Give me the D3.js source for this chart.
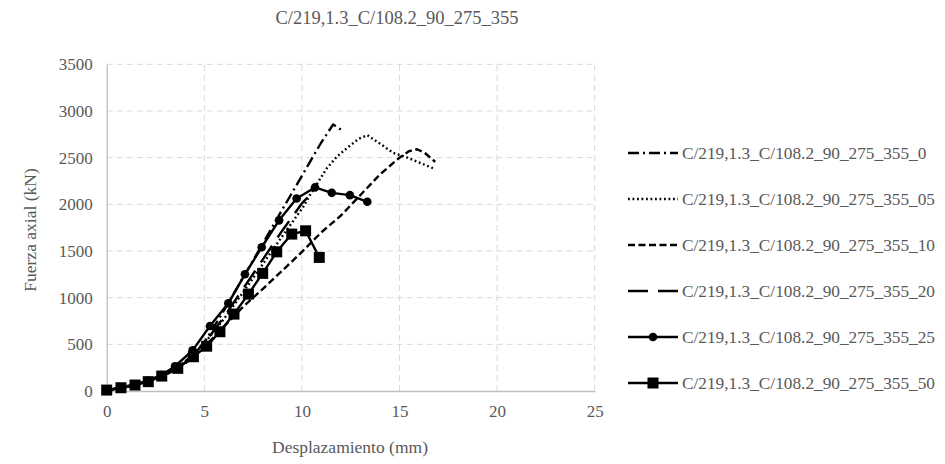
<!DOCTYPE html>
<html>
<head>
<meta charset="utf-8">
<script src="https://cdn.jsdelivr.net/npm/d3@7"></script>
<style>
  html, body { margin: 0; padding: 0; background: #fff; }
  svg text { font-family: "Liberation Serif", "Times New Roman", serif; fill: #595959; }
</style>
</head>
<body>
<svg id="chart" width="945" height="464"></svg>
<script>
// Axial force vs. displacement, six test specimens
const title = "C/219,1.3_C/108.2_90_275_355";
const seriesNames = [
  "C/219,1.3_C/108.2_90_275_355_0",
  "C/219,1.3_C/108.2_90_275_355_05",
  "C/219,1.3_C/108.2_90_275_355_10",
  "C/219,1.3_C/108.2_90_275_355_20",
  "C/219,1.3_C/108.2_90_275_355_25",
  "C/219,1.3_C/108.2_90_275_355_50"
];
const xTicks = [0, 5, 10, 15, 20, 25];
const yTicks = [0, 500, 1000, 1500, 2000, 2500, 3000, 3500];

// [displacement (mm), axial force (kN)]
const s0 = [[0,10],[1,40],[2,100],[3,180],[4,310],[5,520],[6,860],[7,1220],[8,1580],[9,1945],[10,2305],[11,2665],[11.6,2855],[12.0,2800]];
const s05 = [[0,10],[1,40],[2,100],[3,175],[4,310],[5,510],[6,770],[7,1060],[8,1360],[9,1660],[10.07,1973],[10.41,2098],[10.84,2241],[11.27,2384],[11.78,2508],[12.38,2615],[12.9,2700],[13.35,2741],[14.0,2650],[14.68,2551],[15.37,2502],[16.1,2440],[16.75,2384]];
const s10 = [[0,10],[1,40],[2,100],[3,170],[4,290],[5,470],[6,690],[7,905],[8,1095],[9,1290],[10,1490],[11,1700],[12,1880],[13,2100],[14,2320],[15,2500],[15.5,2570],[15.9,2590],[16.3,2550],[16.83,2455]];
const s20 = [[0,10],[1,40],[2,100],[3,175],[4,300],[5,510],[6,790],[7,1100],[8,1410],[9,1720],[10,2010],[10.5,2120]];
const s25 = [[0,10],[0.7,35],[1.4,70],[2.1,110],[2.8,170],[3.5,265],[4.4,435],[5.29,696],[6.23,939],[7.08,1250],[7.94,1540],[8.83,1828],[9.73,2063],[10.67,2181],[11.53,2123],[12.46,2098],[13.35,2027]];
const s50 = [[0,10],[0.73,35],[1.45,64],[2.13,100],[2.82,160],[3.64,243],[4.44,367],[5.12,480],[5.8,635],[6.52,824],[7.26,1038],[7.99,1260],[8.71,1491],[9.48,1681],[10.19,1716],[10.89,1431]];

const seriesData = [s0, s05, s10, s20, s25, s50];
const dashes = ["11,4,2,4", "1.8,2.7", "7,3.5", "20,10", null, null];
const markers = [null, null, null, null, "circle", "square"];

const svg = d3.select("#chart");
const font = '"Liberation Serif", "Times New Roman", serif';

const x = d3.scaleLinear().domain([0, 25]).range([106.7, 594.7]);
const y = d3.scaleLinear().domain([0, 3500]).range([391, 64.3]);

// gridlines
const grid = svg.append("g");
grid.selectAll("line.h").data(yTicks.filter(d => d > 0)).join("line")
  .attr("x1", x(0)).attr("x2", x(25))
  .attr("y1", d => y(d)).attr("y2", d => y(d))
  .attr("stroke", "#d9d9d9").attr("stroke-width", 1).attr("stroke-dasharray", "6,4");
grid.selectAll("line.v").data(xTicks.filter(d => d > 0)).join("line")
  .attr("x1", d => x(d)).attr("x2", d => x(d))
  .attr("y1", y(0)).attr("y2", y(3500))
  .attr("stroke", "#d9d9d9").attr("stroke-width", 1).attr("stroke-dasharray", "6,4");

// axes
const xAxis = svg.append("g").attr("transform", `translate(0,${y(0)})`)
  .call(d3.axisBottom(x).tickValues(xTicks).tickFormat(d3.format("d")).tickSize(0).tickPadding(14));
const yAxis = svg.append("g").attr("transform", `translate(${x(0)},0)`)
  .call(d3.axisLeft(y).tickValues(yTicks).tickFormat(d3.format("d")).tickSize(0).tickPadding(14));
[xAxis, yAxis].forEach(a => {
  a.select(".domain").attr("stroke", "#bfbfbf").attr("stroke-width", 1.3);
  a.selectAll("text").style("font-family", font).style("font-size", "17px").attr("fill", "#595959");
});

// series lines and markers
const line = d3.line().x(d => x(d[0])).y(d => y(d[1]));
seriesData.forEach((data, i) => {
  svg.append("path").datum(data)
    .attr("d", line).attr("fill", "none").attr("stroke", "#000")
    .attr("stroke-width", 2.4)
    .attr("stroke-dasharray", dashes[i])
    .attr("stroke-linejoin", "round");
  if (markers[i] === "circle") {
    svg.append("g").selectAll("circle").data(data).join("circle")
      .attr("cx", d => x(d[0])).attr("cy", d => y(d[1])).attr("r", 4.3).attr("fill", "#000");
  } else if (markers[i] === "square") {
    svg.append("g").selectAll("rect").data(data).join("rect")
      .attr("x", d => x(d[0]) - 5.5).attr("y", d => y(d[1]) - 5.5)
      .attr("width", 11).attr("height", 11).attr("fill", "#000");
  }
});

// title
svg.append("text").attr("x", 397).attr("y", 24).attr("text-anchor", "middle")
  .style("font-size", "18.5px").text(title);

// axis titles
svg.append("text").attr("x", 350).attr("y", 453).attr("text-anchor", "middle")
  .style("font-size", "17.5px").text("Desplazamiento (mm)");
svg.append("text").attr("transform", "translate(36,230) rotate(-90)").attr("text-anchor", "middle")
  .style("font-size", "17.5px").text("Fuerza axial (kN)");

// legend
const legend = svg.append("g");
seriesNames.forEach((name, i) => {
  const ly = 153 + i * 46;
  legend.append("line").attr("x1", 628).attr("x2", 678).attr("y1", ly).attr("y2", ly)
    .attr("stroke", "#000").attr("stroke-width", 2.4).attr("stroke-dasharray", dashes[i]);
  if (markers[i] === "circle") {
    legend.append("circle").attr("cx", 653).attr("cy", ly).attr("r", 4.3).attr("fill", "#000");
  } else if (markers[i] === "square") {
    legend.append("rect").attr("x", 647.5).attr("y", ly - 5.5).attr("width", 11).attr("height", 11).attr("fill", "#000");
  }
  legend.append("text").attr("x", 682).attr("y", ly + 5.5)
    .style("font-size", "17.3px").text(name);
});
</script>
</body>
</html>
